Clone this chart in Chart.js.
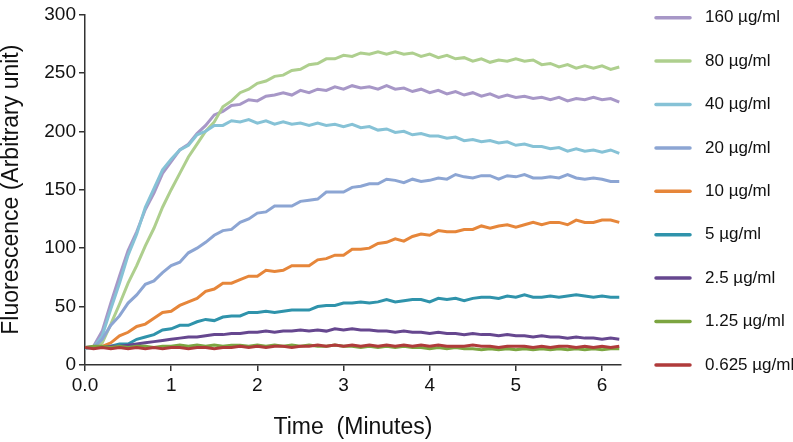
<!DOCTYPE html>
<html>
<head>
<meta charset="utf-8">
<script src="https://cdn.jsdelivr.net/npm/chart.js@4.4.1/dist/chart.umd.min.js"></script>
<style>
html,body{margin:0;padding:0;background:#fff;}
#wrap{width:793px;height:442px;position:relative;}
</style>
</head>
<body>
<div id="wrap"><canvas id="c" width="793" height="442"></canvas></div>
<script>
const times = [0.0,0.1,0.2,0.3,0.4,0.5,0.6,0.7,0.8,0.9,1.0,1.1,1.2,1.3,1.4,1.5,1.6,1.7,1.8,1.9,2.0,2.1,2.2,2.3,2.4,2.5,2.6,2.7,2.8,2.9,3.0,3.1,3.2,3.3,3.4,3.5,3.6,3.7,3.8,3.9,4.0,4.1,4.2,4.3,4.4,4.5,4.6,4.7,4.8,4.9,5.0,5.1,5.2,5.3,5.4,5.5,5.6,5.7,5.8,5.9,6.0,6.1,6.2];

const labels = ["160 µg/ml","80 µg/ml","40 µg/ml","20 µg/ml","10 µg/ml","5 µg/ml","2.5 µg/ml","1.25 µg/ml","0.625 µg/ml"];
const colors = ["#a797c7","#aecf8e","#86c2d6","#8ca5d3","#e6863a","#2f93ab","#66478f","#7ca541","#b03b3b"];

const s160 = [15,16,29,53,76,98,114,133,147,164,174,184,189,198,205,214,217,222,223,227,226,230,231,233,231,235,233,236,235,238,236,239,237,238,236,239,236,237,234,236,233,235,232,234,231,233,230,232,229,231,229,230,228,229,227,229,226,228,227,229,227,228,225];
const s80 = [15,15,19,35,52,70,85,102,117,135,150,164,178,189,200,208,221,226,233,236,241,243,247,248,252,253,257,258,262,262,265,264,267,266,268,266,268,266,267,264,266,263,265,262,263,260,262,259,261,260,262,260,261,257,258,255,257,254,256,254,256,253,255];
const s40 = [14,15,25,48,70,94,112,135,151,167,176,184,188,197,200,205,205,209,208,210,207,209,206,208,206,207,205,207,205,206,204,206,203,204,201,202,199,200,197,198,196,196,194,195,192,193,191,192,190,191,188,189,187,187,185,186,183,185,183,184,182,184,181];
const s20 = [15,15,22,34,42,53,60,69,72,79,85,88,96,100,105,111,115,116,122,125,130,131,136,136,136,140,141,142,148,148,148,152,153,155,155,159,158,156,159,157,158,160,159,163,161,160,162,162,159,162,161,163,160,160,161,160,163,160,159,160,159,157,157];
const s10 = [15,15,16,19,25,28,33,35,40,45,46,51,54,57,63,65,70,70,73,76,76,81,80,81,85,85,85,90,91,94,94,99,99,100,104,105,108,106,110,112,111,115,114,114,116,116,119,117,119,120,118,120,122,120,122,122,120,124,122,122,124,124,122];
const s5 = [15,15,15,16,18,18,22,24,26,30,31,34,34,37,39,38,41,42,42,45,45,46,45,46,47,47,47,50,51,51,53,53,54,53,54,56,54,55,56,56,54,57,56,57,55,57,58,58,57,59,58,60,58,58,59,58,59,60,59,58,59,58,58];
const s2_5 = [15,15,15,16,16,17,18,19,20,21,22,23,24,24,25,26,26,27,27,28,28,29,28,29,29,30,29,30,29,31,30,31,30,30,29,29,28,29,28,28,27,28,27,27,26,27,26,26,25,26,25,25,24,25,24,24,23,24,23,23,22,23,22];
const s1_25 = [15,16,16,15,16,15,16,16,15,16,16,17,16,17,16,17,16,17,17,16,17,16,17,16,17,16,17,16,16,17,16,16,15,16,15,16,15,16,15,15,14,15,14,15,14,14,13,14,13,14,13,14,13,14,13,14,13,14,13,14,13,14,14];
const s0_625 = [15,14,15,14,15,14,15,14,15,14,15,15,14,15,15,14,15,15,16,15,16,15,16,16,15,16,16,17,16,17,16,17,16,17,16,17,16,17,16,17,16,17,16,16,16,17,16,16,15,16,16,16,15,16,15,16,16,15,16,15,16,15,16];

const xTicks = [0,1,2,3,4,5,6];
const xTickLabels = ["0.0","1","2","3","4","5","6"];
const yTicks = [0,50,100,150,200,250,300];

const series = [s160,s80,s40,s20,s10,s5,s2_5,s1_25,s0_625];

const datasets = series.map((s,i)=>({
  label: labels[i],
  data: s.map((v,j)=>({x: times[j], y: v})),
  borderColor: colors[i],
  backgroundColor: colors[i],
  borderWidth: 3,
  pointRadius: 0,
  tension: 0,
  fill: false,
  order: series.length - 1 - i
}));

const legendPlugin = {
  id: 'sideLegend',
  afterDraw(chart){
    const ctx = chart.ctx;
    ctx.save();
    chart.data.datasets.forEach((ds,i)=>{
      const y = 17.7 + i*43.4;
      ctx.strokeStyle = ds.borderColor;
      ctx.lineWidth = 3.5;
      ctx.lineCap = 'round';
      ctx.beginPath();
      ctx.moveTo(656, y);
      ctx.lineTo(690, y);
      ctx.stroke();
      ctx.fillStyle = '#111';
      ctx.font = '17px "Liberation Sans", Arial, sans-serif';
      ctx.textBaseline = 'middle';
      ctx.textAlign = 'left';
      ctx.fillText(ds.label, 705, y);
    });
    ctx.restore();
  }
};

const tickFont = {family: '"Liberation Sans", Arial, sans-serif', size: 19};
const titleFont = {family: '"Liberation Sans", Arial, sans-serif', size: 23, lineHeight: 1};

new Chart(document.getElementById('c'), {
  type: 'line',
  data: {datasets},
  plugins: [legendPlugin],
  options: {
    responsive: false,
    animation: false,
    devicePixelRatio: 1,
    layout: {padding: {left: 0, right: 172, top: 9, bottom: 0}},
    plugins: {legend: {display: false}, tooltip: {enabled: false}},
    scales: {
      x: {
        type: 'linear',
        min: 0, max: 6.22,
        afterBuildTicks(scale){ scale.ticks = xTicks.map(v=>({value:v})); },
        afterFit(scale){ scale.height = 77; },
        ticks: {
          font: tickFont, color: '#111', padding: 3, maxRotation: 0, autoSkip: false,
          callback(v){ const k = xTicks.indexOf(v); return k>=0 ? xTickLabels[k] : ''; }
        },
        grid: {drawOnChartArea: false, drawTicks: true, tickLength: 6, color: '#333', lineWidth: 1.5},
        border: {display: true, color: '#333', width: 1.5},
        title: {display: true, text: 'Time  (Minutes)', font: titleFont, color: '#111', padding: {top: 0, bottom: 2.5}}
      },
      y: {
        type: 'linear',
        min: 0, max: 300,
        afterBuildTicks(scale){ scale.ticks = yTicks.map(v=>({value:v})); },
        afterFit(scale){ scale.width = 85; },
        ticks: {font: tickFont, color: '#111', padding: 3},
        grid: {drawOnChartArea: false, drawTicks: true, tickLength: 6, color: '#333', lineWidth: 1.5},
        border: {display: true, color: '#333', width: 1.5},
        title: {display: true, text: 'Fluorescence (Arbitrary unit)', font: titleFont, color: '#111', padding: {top: 0, bottom: 0}}
      }
    }
  }
});
</script>
</body>
</html>
